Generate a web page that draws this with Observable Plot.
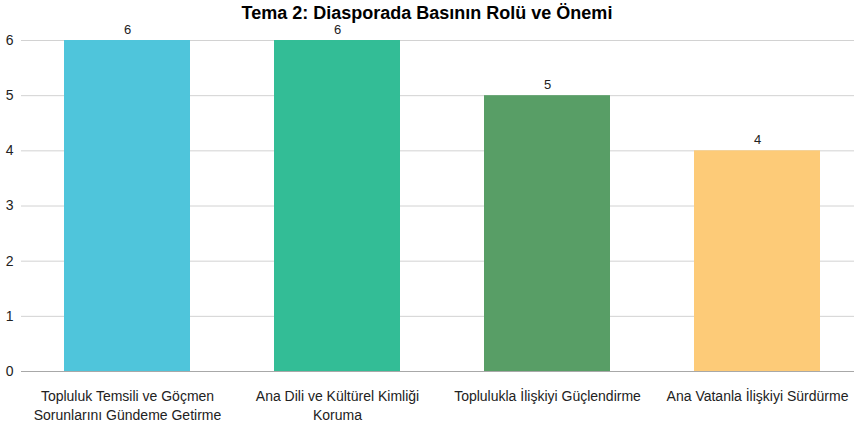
<!DOCTYPE html>
<html>
<head>
<meta charset="utf-8">
<script src="https://cdn.jsdelivr.net/npm/d3@7"></script>
<script src="https://cdn.jsdelivr.net/npm/@observablehq/plot@0.6"></script>
<style>
  html, body { margin: 0; padding: 0; background: #fff; }
  body { width: 854px; height: 422px; overflow: hidden; position: relative; font-family: "Liberation Sans", Arial, sans-serif; }
  #title { position: absolute; top: 0; left: 0; width: 854px; height: 26px; line-height: 26px; text-align: center; font-weight: bold; font-size: 18px; color: #000; z-index: 2; }
  #chart { position: absolute; top: 0; left: 0; }
</style>
</head>
<body>
<div id="chart"></div>
<div id="title">Tema 2: Diasporada Basının Rolü ve Önemi</div>
<script>
const categories = [
  "Topluluk Temsili ve Göçmen Sorunlarını Gündeme Getirme",
  "Ana Dili ve Kültürel Kimliği Koruma",
  "Toplulukla İlişkiyi Güçlendirme",
  "Ana Vatanla İlişkiyi Sürdürme"
];
const tickLabels = [
  "Topluluk Temsili ve Göçmen\nSorunlarını Gündeme Getirme",
  "Ana Dili ve Kültürel Kimliği\nKoruma",
  "Toplulukla İlişkiyi Güçlendirme",
  "Ana Vatanla İlişkiyi Sürdürme"
];
const counts = [6, 6, 5, 4];
const barColors = ["#4FC5DB", "#33BD96", "#589E66", "#FDCB78"];
const yTicks = [0, 1, 2, 3, 4, 5, 6];

const data = categories.map((c, i) => ({cat: c, value: counts[i]}));

const chart = Plot.plot({
  width: 854,
  height: 422,
  marginTop: 40,
  marginBottom: 51,
  marginLeft: 21,
  marginRight: 0,
  style: {fontFamily: "Liberation Sans, Arial, sans-serif", color: "#222", background: "#fff"},
  x: {domain: categories, range: [22, 862], paddingInner: 0.4, paddingOuter: 0.2},
  y: {domain: [0, 6]},
  color: {domain: categories, range: barColors},
  marks: [
    Plot.ruleY(yTicks, {stroke: "#d2d2d2", strokeWidth: 1}),
    Plot.barY(data, {x: "cat", y: "value", fill: "cat"}),
    Plot.ruleY([0], {stroke: "#a8a8a8", strokeWidth: 1}),
    Plot.text(data, {x: "cat", y: "value", text: d => String(d.value), dy: -11, fontSize: 13, fill: "#222"}),
    Plot.axisY({ticks: yTicks, tickSize: 0, tickPadding: 8, fontSize: 14, label: null, tickFormat: d => String(d)}),
    Plot.axisX({tickSize: 0, tickPadding: 16, fontSize: 14, lineHeight: 1.35, label: null,
      tickFormat: d => tickLabels[categories.indexOf(d)]})
  ]
});
document.getElementById("chart").appendChild(chart);
</script>
</body>
</html>
